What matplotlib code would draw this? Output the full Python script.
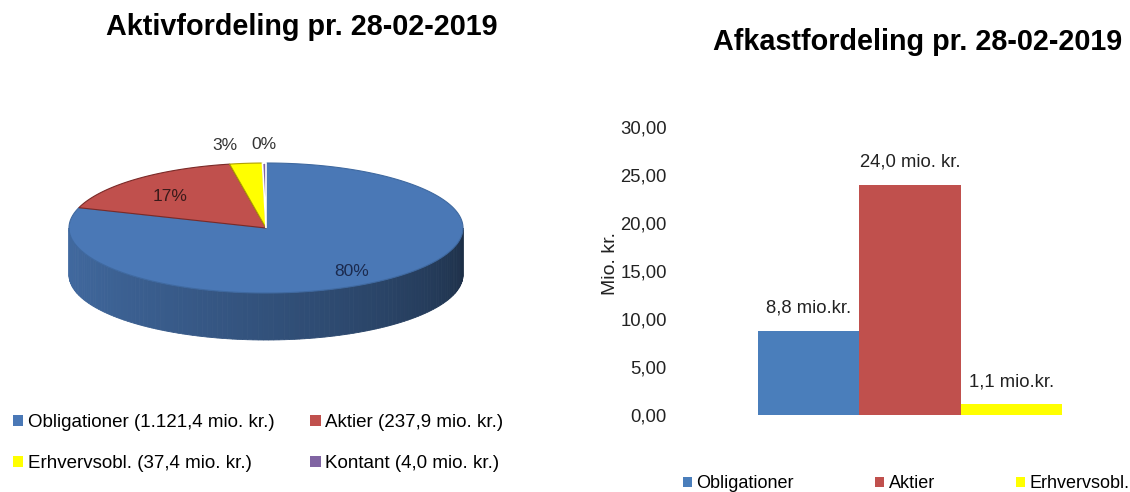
import numpy as np
import matplotlib
matplotlib.use("Agg")
import matplotlib.pyplot as plt
from matplotlib.patches import Polygon, Patch
from matplotlib.colors import to_rgb
from matplotlib.ticker import FuncFormatter

plt.rcParams['font.family'] = ['Liberation Sans', 'DejaVu Sans']

# ---------------- data ----------------
pie_title = "Aktivfordeling pr. 28-02-2019"
pie_categories = ["Obligationer", "Aktier", "Erhvervsobl.", "Kontant"]
pie_values = [1121.4, 237.9, 37.4, 4.0]
pie_legend_labels = ["Obligationer (1.121,4 mio. kr.)", "Aktier (237,9 mio. kr.)",
                     "Erhvervsobl. (37,4 mio. kr.)", "Kontant (4,0 mio. kr.)"]

bar_title = "Afkastfordeling pr. 28-02-2019"
bar_categories = ["Obligationer", "Aktier", "Erhvervsobl."]
bar_values = [8.8, 24.0, 1.1]
bar_value_labels = ["8,8 mio.kr.", "24,0 mio. kr.", "1,1 mio.kr."]
y_ticks = [0, 5, 10, 15, 20, 25, 30]

colors = ["#4a78b6", "#c0504d", "#ffff00", "#8064a2"]
bar_colors = ["#4a7ebb", "#c0504d", "#ffff00"]

# ---------------- figure ----------------
W, H = 1130, 492
fig = plt.figure(figsize=(W / 100, H / 100), dpi=100)
fig.patch.set_facecolor("white")

# pixel-coordinate canvas for the 3D pie
axp = fig.add_axes([0, 0, 1, 1])
axp.set_xlim(0, W)
axp.set_ylim(H, 0)
axp.axis("off")

cx, cy, a, b, depth = 266, 228, 197, 65, 47
total = sum(pie_values)
fr = np.array(pie_values) / total
cum = np.concatenate([[0], np.cumsum(fr)])
starts = 90 - 360 * cum[:-1]
ends = 90 - 360 * cum[1:]


def ell(th_deg, dy=0.0):
    t = np.radians(th_deg)
    return cx + a * np.cos(t), cy - b * np.sin(t) + dy


def shade(c, f):
    r, g, bb = to_rgb(c)
    return (r * f, g * f, bb * f)


# side faces (front half: angles -180..0)
for i in range(len(pie_values)):
    lo, hi = max(ends[i], -180), min(starts[i], 0)
    if hi <= lo:
        continue
    edges = np.linspace(lo, hi, 120)
    for k in range(len(edges) - 1):
        t0, t1 = edges[k], edges[k + 1]
        ts = np.linspace(t0, t1, 3)
        xs, ys = ell(ts)
        xb, yb = ell(ts[::-1], depth)
        pos = (0.5 * (t0 + t1) + 180) / 180  # 0 left .. 1 right
        f = 0.88 - 0.5 * pos ** 1.3
        poly = Polygon(np.column_stack([np.concatenate([xs, xb]), np.concatenate([ys, yb])]),
                       closed=True, facecolor=shade(colors[i], f), edgecolor=shade(colors[i], f),
                       linewidth=0.6)
        axp.add_patch(poly)

# top faces
edgecols = ["#3f69a0", "#7a2a28", "#b0a000", "white"]
for i in range(len(pie_values)):
    ts = np.linspace(starts[i], ends[i], 200)
    xs, ys = ell(ts)
    pts = np.column_stack([np.concatenate([[cx], xs]), np.concatenate([[cy], ys])])
    axp.add_patch(Polygon(pts, closed=True, facecolor=colors[i], edgecolor=edgecols[i],
                          linewidth=0.8 if i != 3 else 1.2))

# slice labels
lab_colors = ["#1b2a4e", "#3a1a1a", "#333333", "#333333"]
for i in range(len(pie_values)):
    pct = f"{fr[i] * 100:.0f}%"
    mid = 0.5 * (starts[i] + ends[i])
    x, y = ell(mid)
    if fr[i] > 0.1:
        x = cx + 0.74 * (x - cx)
        y = cy + 0.74 * (y - cy) + 5
        axp.text(x, y, pct, ha="center", va="center", fontsize=12.5, color=lab_colors[i])
    else:
        x = cx + 1.28 * (x - cx)
        y = cy + 1.28 * (y - cy)
        ha = "right" if i == 2 else "center"
        if i == 2:
            x -= 3
        axp.text(x, y, pct, ha=ha, va="center", fontsize=12.5, color=lab_colors[i])

fig.text(302 / W, 1 - 27 / H, pie_title, ha="center", va="center",
         fontsize=20.7, fontweight="bold", color="black")

# legend filled row by row (2 columns)
order = [0, 2, 1, 3]
pie_handles = [Patch(facecolor=colors[i], edgecolor="none") for i in order]
fig.legend(pie_handles, [pie_legend_labels[i] for i in order], ncol=2, loc="upper left",
           bbox_to_anchor=(13 / W, 1 - 414 / H), frameon=False, fontsize=13.5,
           handlelength=0.55, handleheight=0.55, handletextpad=0.25,
           columnspacing=1.9, labelspacing=1.3, borderpad=0, borderaxespad=0)

# ---------------- bar chart ----------------
axb = fig.add_axes([675 / W, 77 / H, 445 / W, 288 / H])
x = np.arange(len(bar_values))
bars = axb.bar(x, bar_values, width=1.0, color=bar_colors)
axb.bar_label(bars, labels=bar_value_labels, padding=10, fontsize=13.3, color="#222222")
axb.set_xlim(-1.319, 3.073)
axb.set_ylim(0, 30)
axb.set_yticks(y_ticks)
axb.yaxis.set_major_formatter(FuncFormatter(lambda v, p: f"{v:.2f}".replace(".", ",")))
axb.tick_params(axis="y", length=0, pad=6, labelsize=13.3, labelcolor="#222222")
axb.set_xticks([])
for s in axb.spines.values():
    s.set_visible(False)
axb.set_ylabel("Mio. kr.", fontsize=14, color="#222222")
axb.yaxis.set_label_coords(-0.125, 0.525)

fig.text(918 / W, 1 - 42 / H, bar_title, ha="center", va="center",
         fontsize=20.7, fontweight="bold", color="black")

bar_handles = [Patch(facecolor=c, edgecolor="none") for c in bar_colors]
fig.legend(bar_handles, bar_categories, ncol=3, loc="center left",
           bbox_to_anchor=(683 / W, 1 - 484 / H), frameon=False, fontsize=13,
           handlelength=0.5, handleheight=0.5, handletextpad=0.25,
           columnspacing=4.5, borderpad=0, borderaxespad=0)

fig.savefig("out.png", dpi=100, facecolor="white")
